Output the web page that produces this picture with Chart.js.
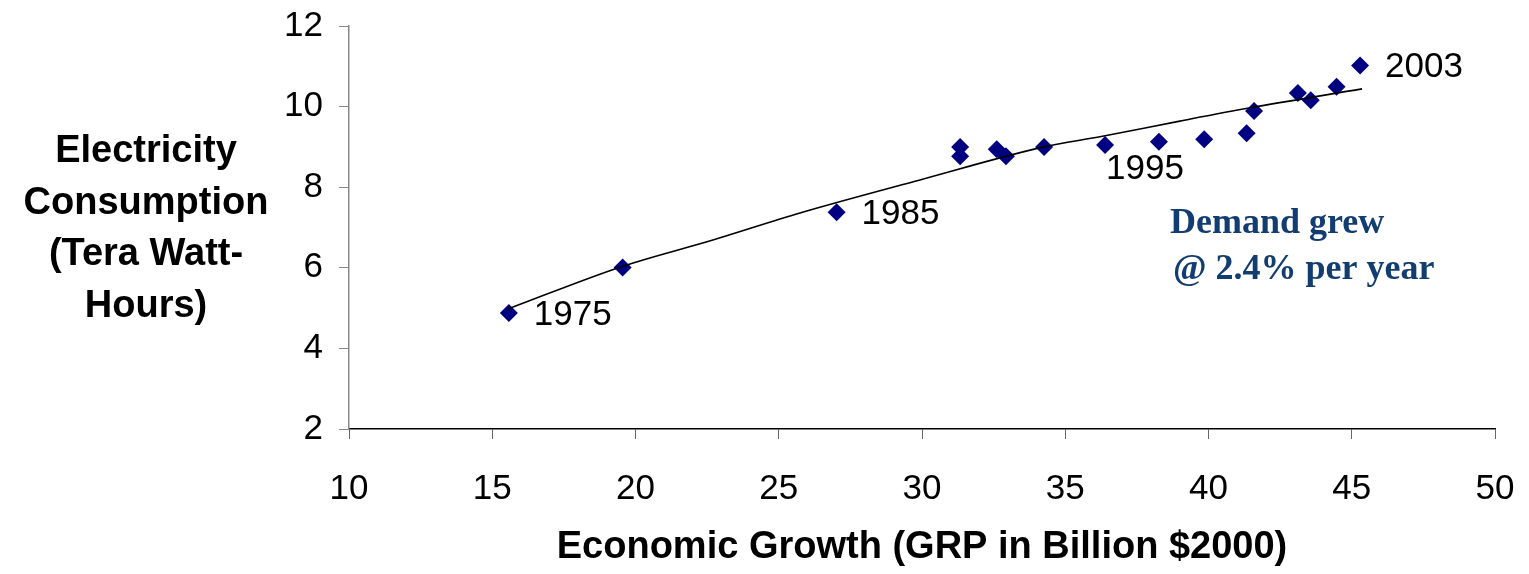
<!DOCTYPE html>
<html>
<head>
<meta charset="utf-8">
<script src="https://cdn.jsdelivr.net/npm/chart.js@4.4.1/dist/chart.umd.min.js"></script>
<style>
  html, body { margin: 0; padding: 0; background: #fff; }
  #wrap { width: 1529px; height: 574px; position: relative; }
</style>
</head>
<body>
<div id="wrap"><canvas id="elec-chart"></canvas></div>
<script>
// ===== Electricity consumption vs. GRP =====
const grpValues = [15.58, 19.55, 27.02, 31.33, 31.33, 32.61, 32.93, 34.26, 36.39, 38.27, 39.85, 41.33, 41.59, 43.12, 43.57, 44.47, 45.29];
const consumptionValues = [4.88, 6.01, 7.38, 9.00, 8.77, 8.94, 8.77, 9.00, 9.05, 9.13, 9.19, 9.34, 9.89, 10.34, 10.16, 10.49, 11.02];

// trend line
const trendGrp = [15.55, 19.56, 22.70, 25.74, 29.93, 34.26, 36.21, 39.00, 41.45, 45.36];
const trendConsumption = [4.98, 6.04, 6.69, 7.36, 8.18, 9.00, 9.25, 9.64, 9.97, 10.44];

const yearLabels = ['1975', '1985', '1995', '2003'];
const yearLabelIndex = [0, 2, 8, 16];

const yTitleLines = ['Electricity', 'Consumption', '(Tera Watt-', 'Hours)'];
const xTitle = 'Economic Growth (GRP in Billion $2000)';
const noteLines = ['Demand grew', ' @ 2.4% per year'];

const SANS = '"Liberation Sans", Arial, sans-serif';
const SERIF = '"Liberation Serif", "Times New Roman", serif';

const textPlugin = {
  id: 'texts',
  afterDraw(chart) {
    const { ctx, scales: { x, y } } = chart;
    ctx.save();
    ctx.fillStyle = '#000';
    ctx.textBaseline = 'middle';

    // year labels beside markers
    ctx.font = '35px ' + SANS;
    ctx.textAlign = 'left';
    yearLabels.forEach((txt, i) => {
      const k = yearLabelIndex[i];
      const px = x.getPixelForValue(grpValues[k]);
      const py = y.getPixelForValue(consumptionValues[k]);
      if (txt === '1995') ctx.fillText(txt, px + 1, py + 24);
      else ctx.fillText(txt, px + 25, py + 2);
    });

    // y title (horizontal, multi-line)
    ctx.font = 'bold 38px ' + SANS;
    ctx.textAlign = 'center';
    yTitleLines.forEach((line, i) => ctx.fillText(line, 146, 152 + i * 51.5));

    // x title
    const cx = (chart.chartArea.left + chart.chartArea.right) / 2;
    ctx.fillText(xTitle, cx, 548);

    // note
    ctx.font = 'bold 36px ' + SERIF;
    ctx.fillStyle = '#123D70';
    ctx.textAlign = 'left';
    ctx.fillText(noteLines[0], 1170, 224);
    ctx.fillText(noteLines[1], 1164, 270);
    ctx.restore();
  }
};

function createChart() {
  const ctx = document.getElementById('elec-chart').getContext('2d');
  return new Chart(ctx, {
    type: 'scatter',
    data: {
      datasets: [{
        label: 'Trend',
        data: trendGrp.map((v, i) => ({ x: v, y: trendConsumption[i] })),
        showLine: true,
        borderColor: '#000',
        borderWidth: 1.6,
        pointRadius: 0,
        cubicInterpolationMode: 'monotone',
        order: 0
      }, {
        label: 'Consumption',
        data: grpValues.map((v, i) => ({ x: v, y: consumptionValues[i] })),
        pointStyle: 'rectRot',
        pointRadius: 9,
        backgroundColor: '#000080',
        borderColor: '#000080',
        borderWidth: 0,
        order: 1
      }]
    },
    options: {
      responsive: true,
      maintainAspectRatio: false,
      animation: false,
      layout: { padding: { top: 26, right: 34, left: 0, bottom: 0 } },
      plugins: {
        legend: { display: false },
        tooltip: { enabled: false }
      },
      scales: {
        x: {
          min: 10, max: 50,
          border: { color: '#000', width: 1.5 },
          grid: { drawOnChartArea: false, drawTicks: true, tickLength: 10, color: '#666' },
          ticks: { stepSize: 5, color: '#000', padding: 29, maxRotation: 0, font: { family: SANS, size: 35 } },
          afterFit: (s) => { s.height = 145; s.paddingLeft = 0; s.paddingRight = 0; }
        },
        y: {
          min: 2, max: 12,
          border: { color: '#888', width: 1.5 },
          grid: { drawOnChartArea: false, drawTicks: true, tickLength: 10, color: '#888' },
          ticks: { stepSize: 2, color: '#000', padding: 16, font: { family: SANS, size: 35 } },
          afterFit: (s) => { s.width = 349; s.paddingTop = 0; s.paddingBottom = 0; }
        }
      }
    },
    plugins: [textPlugin]
  });
}

document.addEventListener('DOMContentLoaded', createChart);
</script>
</body>
</html>
